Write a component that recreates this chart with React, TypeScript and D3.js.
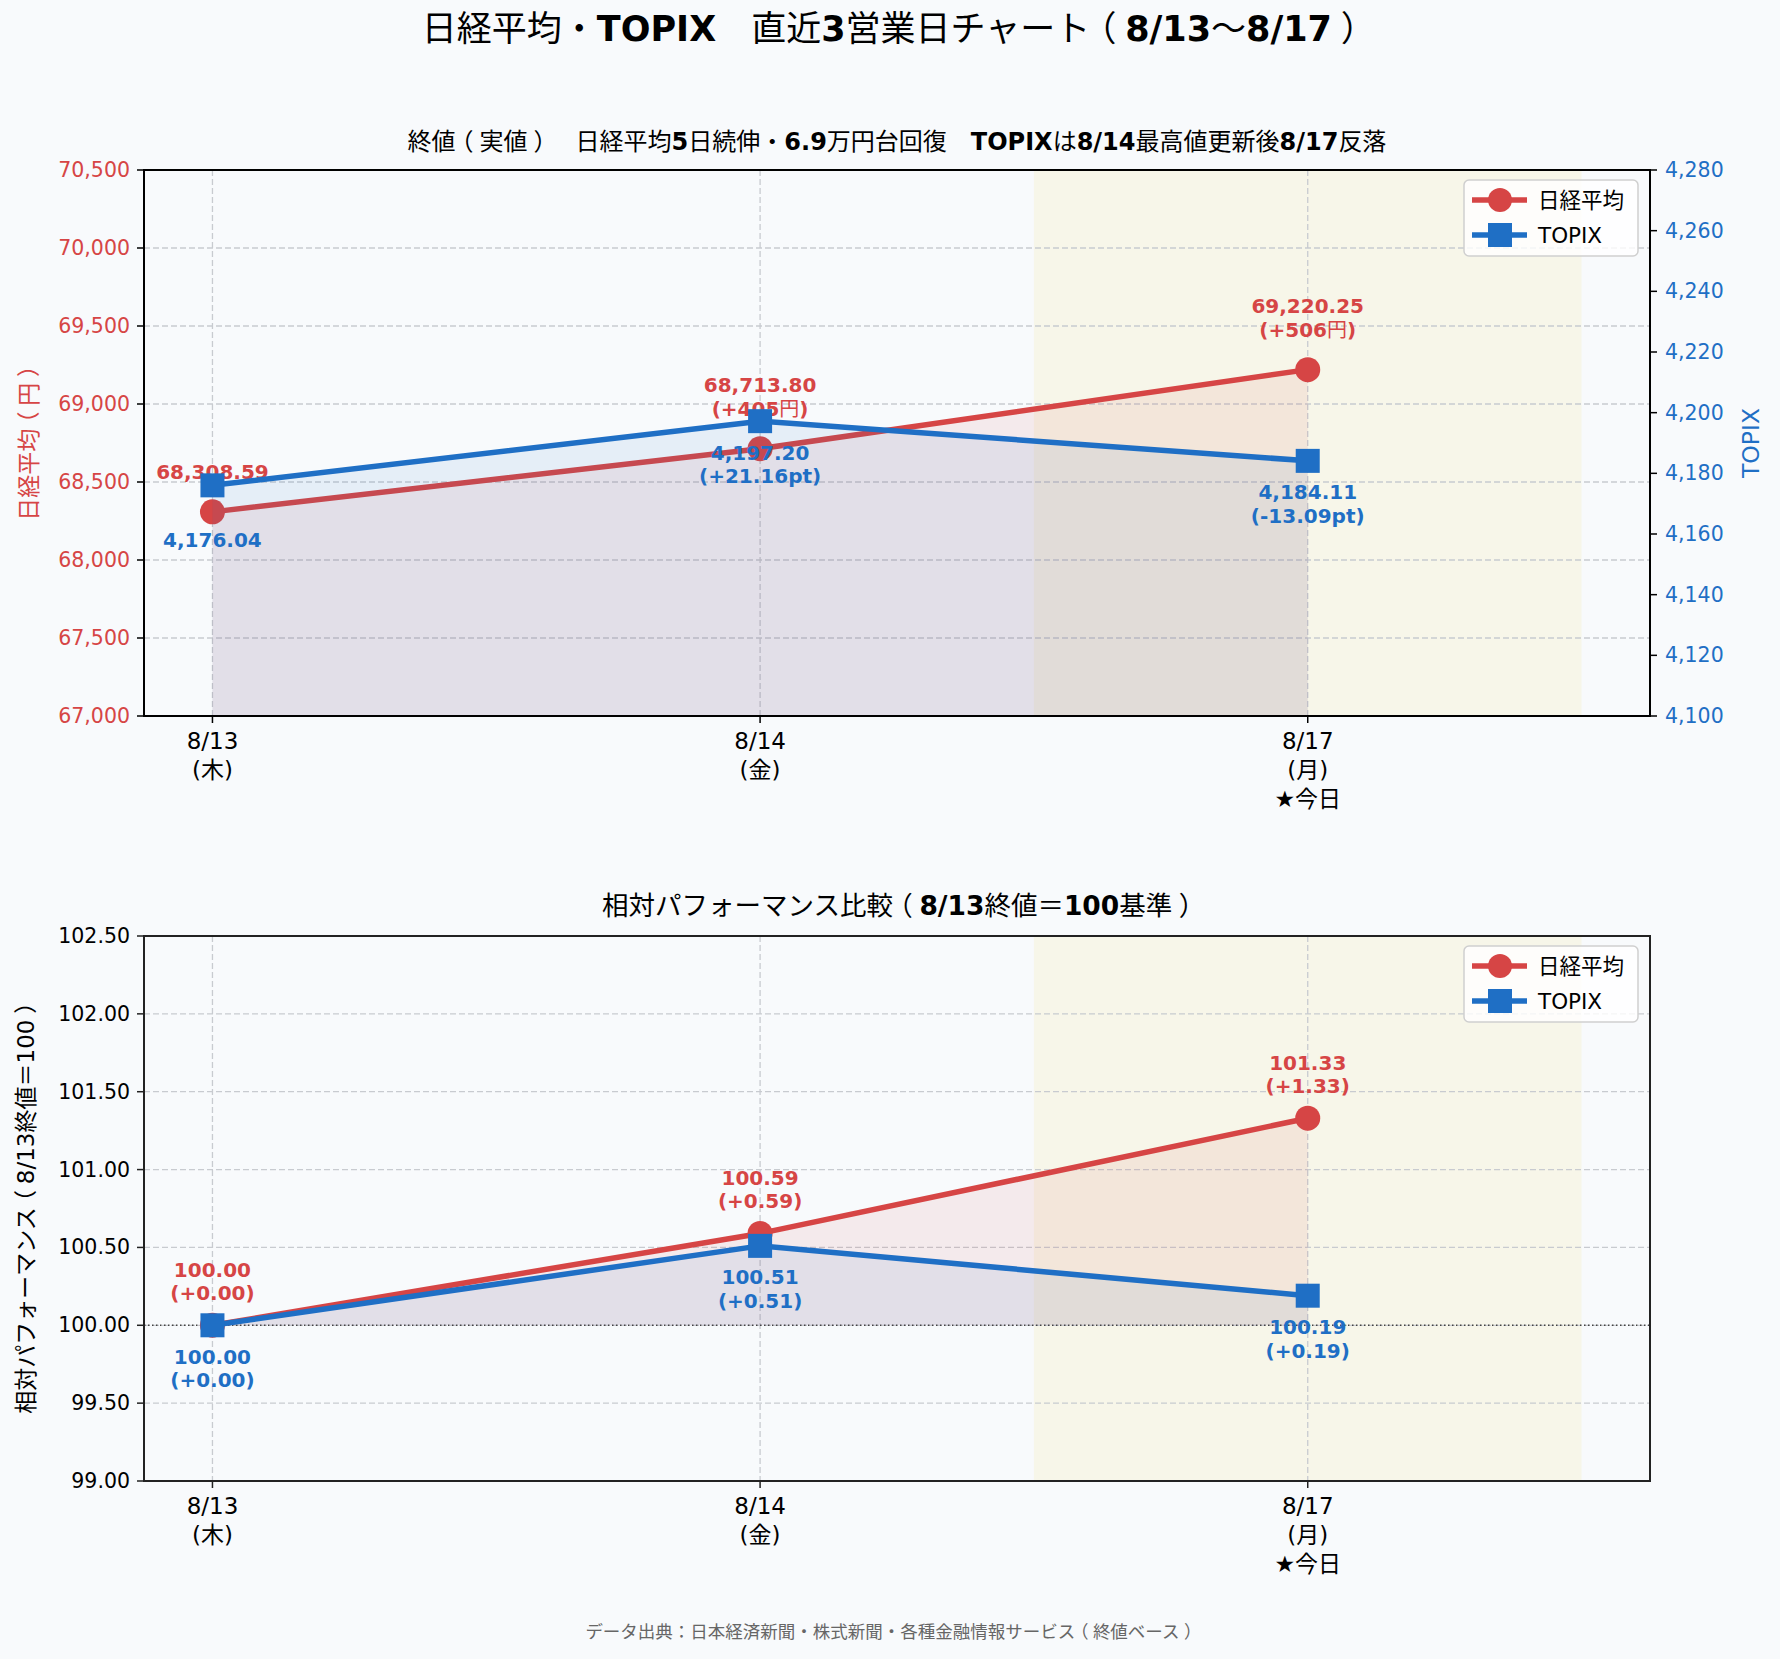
import React, { useRef, useEffect } from 'react';
import * as d3 from 'd3';

// データ
const dates = ['8/13', '8/14', '8/17'];
const weekdays = ['(木)', '(金)', '(月)'];
const dayNotes = ['', '', '★今日'];
const seriesNames = ['日経平均', 'TOPIX'];
const nikkei = [68308.59, 68713.8, 69220.25];
const topix = [4176.04, 4197.2, 4184.11];
const nikkeiDiff = [null, 405, 506];
const topixDiff = [null, 21.16, -13.09];
const nikkeiRel = [100.0, 100.59, 101.33];
const topixRel = [100.0, 100.51, 100.19];
const nikkeiTicks = [67000, 67500, 68000, 68500, 69000, 69500, 70000, 70500];
const topixTicks = [4100, 4120, 4140, 4160, 4180, 4200, 4220, 4240, 4260, 4280];
const relTicks = [99, 99.5, 100, 100.5, 101, 101.5, 102, 102.5];

const mainTitle = '日経平均・TOPIX\u3000直近3営業日チャート（8/13〜8/17）';
const topTitle = '終値（実値）\u3000日経平均5日続伸・6.9万円台回復\u3000TOPIXは8/14最高値更新後8/17反落';
const bottomTitle = '相対パフォーマンス比較（8/13終値＝100基準）';
const footer = 'データ出典：日本経済新聞・株式新聞・各種金融情報サービス（終値ベース）';

const RED = '#d64545';
const BLUE = '#1f6fc5';
const BG = '#f8fafc';
const GRID = '#c8cbd0';
const LAT = "'DejaVu Sans'";
const CJK = "'Noto Sans CJK JP'";

const W = 1780;
const H = 1659;
const X0 = 144;
const X1 = 1650;

type Opts = { fill?: string; anchor?: string; bold?: boolean; transform?: string };

// ASCII は DejaVu、和文は Noto（和文は太字にしない）
// 全角括弧は半角字形＋前後の余白で字面を中央に置く
const addText = (parent: any, str: string, x: number, y: number, size: number, opts: Opts = {}) => {
  const t = parent.append('text')
    .attr('x', x)
    .attr('y', y)
    .attr('font-size', size)
    .attr('fill', opts.fill || '#000')
    .attr('text-anchor', opts.anchor || 'middle')
    .style('white-space', 'pre')
    .style('text-spacing-trim', 'space-all');
  if (opts.transform) t.attr('transform', opts.transform);
  const parts = str.match(/[\x00-\x7F★]+|[（）]|[^\x00-\x7F★（）]+/g) || [];
  let pending = 0;
  parts.forEach((p) => {
    const ascii = /^[\x00-\x7F★]/.test(p);
    const paren = p === '（' || p === '）';
    let dx = pending;
    pending = 0;
    if (paren) { dx += 0.25; pending = 0.25; }
    const ts = t.append('tspan')
      .attr('font-family', ascii ? LAT : CJK)
      .attr('font-weight', opts.bold && ascii ? 'bold' : 'normal')
      .text(p);
    if (paren) ts.style('font-feature-settings', '"halt"');
    if (dx !== 0) ts.attr('dx', `${dx}em`);
  });
  return t;
};

const App = () => {
  const svgRef = useRef<SVGSVGElement>(null);

  useEffect(() => {
    if (!svgRef.current) return;
    document.body.style.margin = '0';
    const svg = d3.select(svgRef.current);
    svg.selectAll('*').remove();

    svg.append('rect').attr('width', W).attr('height', H).attr('fill', BG);

    const x = d3.scaleLinear().domain([-0.125, 2.625]).range([X0, X1]);
    const idx = dates.map((_, i) => i);

    // 共通の枠（背景・強調帯・グリッド）
    const drawBack = (g: any, y: any, ticks: number[]) => {
      const [yb, yt] = y.range();
      g.append('rect').attr('x', X0).attr('y', yt).attr('width', X1 - X0).attr('height', yb - yt).attr('fill', BG);
      g.append('rect')
        .attr('x', x(1.5)).attr('y', yt)
        .attr('width', x(2.5) - x(1.5)).attr('height', yb - yt)
        .attr('fill', '#f7e9a8').attr('opacity', 0.22);
      g.selectAll('.hgrid').data(ticks).enter().append('line')
        .attr('x1', X0).attr('x2', X1)
        .attr('y1', (d: number) => y(d)).attr('y2', (d: number) => y(d))
        .attr('stroke', GRID).attr('stroke-width', 1.3).attr('stroke-dasharray', '6,3');
      g.selectAll('.vgrid').data(idx).enter().append('line')
        .attr('x1', (d: number) => x(d)).attr('x2', (d: number) => x(d))
        .attr('y1', yt).attr('y2', yb)
        .attr('stroke', GRID).attr('stroke-width', 1.3).attr('stroke-dasharray', '6,3');
    };

    const drawSeries = (g: any, y: any, vals: number[], base: number, color: string, shape: string) => {
      const area = d3.area<number>().x((_, i) => x(i)).y0(y(base)).y1((d) => y(d));
      g.append('path').datum(vals).attr('d', area).attr('fill', color).attr('opacity', 0.085);
      const line = d3.line<number>().x((_, i) => x(i)).y((d) => y(d));
      g.append('path').datum(vals).attr('d', line)
        .attr('fill', 'none').attr('stroke', color).attr('stroke-width', 5.5)
        .attr('stroke-linejoin', 'round');
      vals.forEach((v, i) => {
        if (shape === 'circle') {
          g.append('circle').attr('cx', x(i)).attr('cy', y(v)).attr('r', 12.5).attr('fill', color);
        } else {
          g.append('rect').attr('x', x(i) - 12).attr('y', y(v) - 12).attr('width', 24).attr('height', 24).attr('fill', color);
        }
      });
    };

    const drawLabels = (g: any, y: any, vals: number[], lines: string[][], color: string, above: boolean, off: number) => {
      vals.forEach((v, i) => {
        const ls = lines[i];
        const lastBase = above ? y(v) - off : y(v) + off;
        ls.forEach((s, k) => {
          addText(g, s, x(i), lastBase - (ls.length - 1 - k) * 23.5, 20, { fill: color, bold: true });
        });
      });
    };

    const drawFrame = (g: any, y: any, ticks: number[], fmt: (d: number) => string, tickColor: string, spine: string) => {
      const [yb, yt] = y.range();
      g.append('rect').attr('x', X0).attr('y', yt).attr('width', X1 - X0).attr('height', yb - yt)
        .attr('fill', 'none').attr('stroke', spine).attr('stroke-width', 2);
      ticks.forEach((t) => {
        g.append('line').attr('x1', X0 - 7).attr('x2', X0).attr('y1', y(t)).attr('y2', y(t))
          .attr('stroke', spine).attr('stroke-width', 1.5);
        addText(g, fmt(t), X0 - 14, y(t) + 7, 20.5, { fill: tickColor, anchor: 'end' });
      });
      idx.forEach((i) => {
        g.append('line').attr('x1', x(i)).attr('x2', x(i)).attr('y1', yb).attr('y2', yb + 7)
          .attr('stroke', spine).attr('stroke-width', 1.5);
        const ls = [dates[i], weekdays[i], dayNotes[i]].filter((s) => s);
        ls.forEach((s, k) => addText(g, s, x(i), yb + 33 + k * 29, 23));
      });
    };

    const drawLegend = (g: any, yt: number) => {
      g.append('rect')
        .attr('x', X1 - 186).attr('y', yt + 10)
        .attr('width', 174).attr('height', 76).attr('rx', 5)
        .attr('fill', '#fff').attr('fill-opacity', 0.8)
        .attr('stroke', '#cfcfcf').attr('stroke-width', 1.5);
      const items = [
        { name: seriesNames[0], color: RED, shape: 'circle' },
        { name: seriesNames[1], color: BLUE, shape: 'square' },
      ];
      items.forEach((it, k) => {
        const cy = yt + 30 + k * 35;
        g.append('line').attr('x1', X1 - 178).attr('x2', X1 - 123).attr('y1', cy).attr('y2', cy)
          .attr('stroke', it.color).attr('stroke-width', 5.5);
        if (it.shape === 'circle') {
          g.append('circle').attr('cx', X1 - 150).attr('cy', cy).attr('r', 12).attr('fill', it.color);
        } else {
          g.append('rect').attr('x', X1 - 162).attr('y', cy - 12).attr('width', 24).attr('height', 24).attr('fill', it.color);
        }
        addText(g, it.name, X1 - 112, cy + 8, 21.5, { anchor: 'start' });
      });
    };

    // ===== 上段：実値 =====
    const gTop = svg.append('g');
    const yN = d3.scaleLinear().domain([67000, 70500]).range([716, 170]);
    const yT = d3.scaleLinear().domain([4100, 4280]).range([716, 170]);
    drawBack(gTop, yN, nikkeiTicks);
    drawSeries(gTop, yN, nikkei, 67000, RED, 'circle');
    drawLabels(gTop, yN, nikkei,
      nikkei.map((v, i) => {
        const s = [d3.format(',.2f')(v)];
        if (nikkeiDiff[i] !== null) s.push(`(+${nikkeiDiff[i]}円)`);
        return s;
      }), RED, true, 33);
    drawSeries(gTop, yT, topix, 4100, BLUE, 'square');
    drawLabels(gTop, yT, topix,
      topix.map((v, i) => {
        const s = [d3.format(',.2f')(v)];
        const d = topixDiff[i];
        if (d !== null) s.push(`(${d >= 0 ? '+' : ''}${d.toFixed(2)}pt)`);
        return s;
      }), BLUE, false, 62);
    drawFrame(gTop, yN, nikkeiTicks, d3.format(','), RED, '#000');
    topixTicks.forEach((t) => {
      gTop.append('line').attr('x1', X1).attr('x2', X1 + 7).attr('y1', yT(t)).attr('y2', yT(t))
        .attr('stroke', '#000').attr('stroke-width', 1.5);
      addText(gTop, d3.format(',')(t), X1 + 15, yT(t) + 7, 20.5, { fill: BLUE, anchor: 'start' });
    });
    addText(gTop, '日経平均（円）', 0, 0, 23, { fill: RED, transform: 'translate(37,443) rotate(-90)' });
    addText(gTop, 'TOPIX', 0, 0, 23.5, { fill: BLUE, transform: 'translate(1759,443) rotate(-90)' });
    addText(gTop, topTitle, (X0 + X1) / 2, 150, 24, { bold: true });
    drawLegend(gTop, 170);

    // ===== 下段：相対パフォーマンス =====
    const gBot = svg.append('g');
    const yR = d3.scaleLinear().domain([99, 102.5]).range([1481, 936]);
    drawBack(gBot, yR, relTicks);
    gBot.append('line').attr('x1', X0).attr('x2', X1).attr('y1', yR(100)).attr('y2', yR(100))
      .attr('stroke', '#444').attr('stroke-width', 1.5).attr('stroke-dasharray', '1.5,2.5');
    drawSeries(gBot, yR, nikkeiRel, 100, RED, 'circle');
    drawSeries(gBot, yR, topixRel, 100, BLUE, 'square');
    const relLines = (vals: number[]) =>
      vals.map((v) => [v.toFixed(2), `(${v - 100 >= 0 ? '+' : ''}${(v - 100).toFixed(2)})`]);
    drawLabels(gBot, yR, nikkeiRel, relLines(nikkeiRel), RED, true, 25);
    drawLabels(gBot, yR, topixRel, relLines(topixRel), BLUE, false, 62);
    drawFrame(gBot, yR, relTicks, d3.format('.2f'), '#000', '#222');
    addText(gBot, '相対パフォーマンス（8/13終値＝100）', 0, 0, 23, { transform: 'translate(34,1208) rotate(-90)' });
    addText(gBot, bottomTitle, (X0 + X1) / 2, 915, 26.5, { bold: true });
    drawLegend(gBot, 936);

    // タイトル・出典
    addText(svg, mainTitle, W / 2, 41, 35, { bold: true });
    addText(svg, footer, (X0 + X1) / 2 - 8, 1638, 17.5, { fill: '#666' });
  }, []);

  return <svg ref={svgRef} width={W} height={H} style={{ display: 'block' }}></svg>;
};

export default App;
